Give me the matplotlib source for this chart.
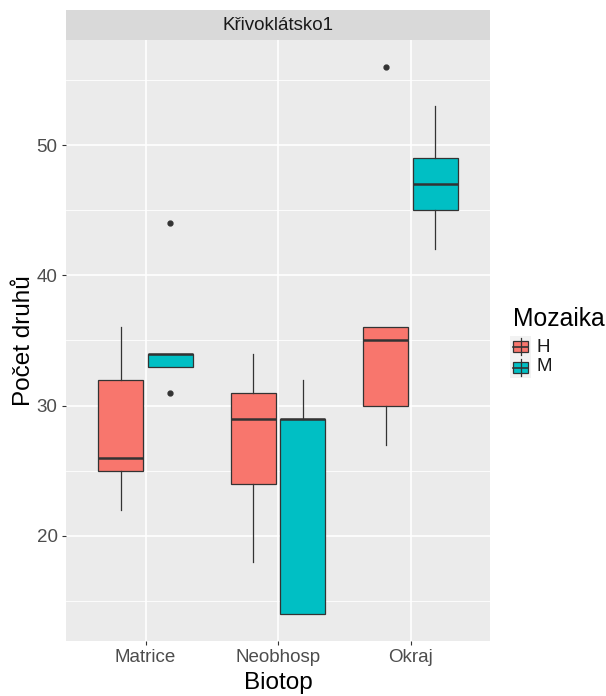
import matplotlib.pyplot as plt
from matplotlib.patches import Rectangle

plt.rcParams['font.family'] = ['Liberation Sans', 'DejaVu Sans']

# box statistics
biotop = ['Matrice', 'Neobhosp', 'Okraj']
mozaika = ['H', 'M']
colors = {'H': '#F8766D', 'M': '#00BFC4'}

q1 = {'H': [25, 24, 30], 'M': [33, 14, 45]}
med = {'H': [26, 29, 35], 'M': [34, 29, 47]}
q3 = {'H': [32, 31, 36], 'M': [34, 29, 49]}
whislo = {'H': [22, 18, 27], 'M': [33, 14, 42]}
whishi = {'H': [36, 34, 36], 'M': [34, 32, 53]}
fliers = {'H': [[], [], [56]], 'M': [[44, 31], [], []]}

W, H = 606, 696
fig = plt.figure(figsize=(W / 100, H / 100), dpi=100)
ax = fig.add_axes([66 / W, 55 / H, 424 / W, 601 / H])
ax.set_facecolor('#EBEBEB')

# grid like ggplot theme_gray
for v in [15, 25, 35, 45, 55]:
    ax.axhline(v, color='white', lw=0.6, zorder=0)
for v in [20, 30, 40, 50]:
    ax.axhline(v, color='white', lw=1.2, zorder=0)
for i in range(len(biotop)):
    ax.axvline(i + 1, color='white', lw=1.2, zorder=0)

offsets = {'H': -0.1875, 'M': 0.1875}
for m in mozaika:
    stats = []
    for i in range(len(biotop)):
        stats.append(dict(med=med[m][i], q1=q1[m][i], q3=q3[m][i],
                          whislo=whislo[m][i], whishi=whishi[m][i],
                          fliers=fliers[m][i]))
    pos = [i + 1 + offsets[m] for i in range(len(biotop))]
    ax.bxp(stats, positions=pos, widths=0.3375, patch_artist=True,
           showcaps=False, manage_ticks=False,
           boxprops=dict(facecolor=colors[m], edgecolor='#333333', lw=0.9),
           medianprops=dict(color='#333333', lw=1.8),
           whiskerprops=dict(color='#333333', lw=0.9),
           flierprops=dict(marker='o', markerfacecolor='#333333',
                           markeredgecolor='#333333', markersize=3.5),
           zorder=2)

ax.set_xlim(0.4, 3.6)
ax.set_ylim(11.9, 58.1)
ax.set_xticks([1, 2, 3])
ax.set_xticklabels(biotop)
ax.set_yticks([20, 30, 40, 50])
for s in ax.spines.values():
    s.set_visible(False)
ax.tick_params(colors='#333333', length=3, width=0.8, labelcolor='#4D4D4D',
               labelsize=13.5, pad=3)
ax.set_xlabel('Biotop', fontsize=17.5, labelpad=4)
ax.set_ylabel('Počet druhů', fontsize=17.5, labelpad=1)

# facet strip
sax = fig.add_axes([66 / W, 656 / H, 424 / W, 30 / H])
sax.set_facecolor('#D9D9D9')
sax.set_xticks([])
sax.set_yticks([])
for s in sax.spines.values():
    s.set_visible(False)
sax.text(0.5, 0.5, 'Křivoklátsko1', ha='center', va='center', fontsize=13.5,
         color='#1A1A1A', transform=sax.transAxes)

# legend
fig.text(513 / W, 1 - 319 / H, 'Mozaika', fontsize=17.8, va='center', ha='left')
lax = fig.add_axes([510 / W, 1 - 378 / H, 21 / W, 42 / H])
lax.set_xlim(0, 1)
lax.set_ylim(0, 2)
lax.axis('off')
lax.add_patch(Rectangle((0, 0), 1, 2, facecolor='#F2F2F2', edgecolor='none'))
for j, m in enumerate(mozaika):
    yc = 1.5 - j
    lax.plot([0.5, 0.5], [yc - 0.42, yc + 0.42], color='#333333', lw=0.9)
    lax.add_patch(Rectangle((0.12, yc - 0.26), 0.76, 0.52, facecolor=colors[m],
                            edgecolor='#333333', lw=0.9))
    lax.plot([0.12, 0.88], [yc, yc], color='#333333', lw=1.2)
    fig.text(537 / W, 1 - (347 + 20 * j) / H, m, fontsize=13.5, va='center',
             ha='left', color='#1A1A1A')

fig.savefig('out.png', dpi=100, facecolor='white')
